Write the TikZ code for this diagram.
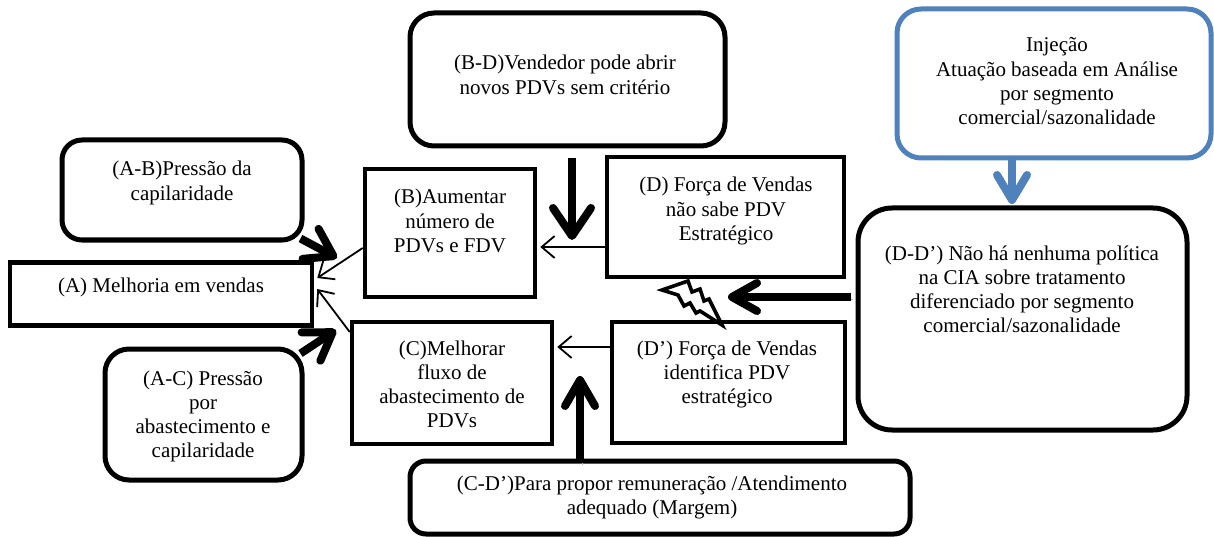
\documentclass[tikz,border=0pt]{standalone}
\usepackage{fontspec}
\setmainfont{Liberation Serif}
\usetikzlibrary{arrows.meta,calc}
\definecolor{injblue}{RGB}{79,129,189}
% centred multi-line text whose baseline is that of its first line
\newcommand{\tl}[2]{\parbox[t]{#1pt}{\centering #2}}
\begin{document}
\begin{tikzpicture}[x=1pt,y=-1pt,
  sqbox/.style={draw, line width=4.5pt, inner sep=0pt},
  rbox/.style={draw, line width=5pt, inner sep=0pt, rounded corners=#1},
  lbl/.style={anchor=base, inner sep=0pt, font=\fontsize{21}{24.3}\selectfont},
  thinarrow/.style={line width=1.8pt, -{Straight Barb[length=13pt,width=22pt]}},
  fat/.style 2 args={line width=8pt, -{Straight Barb[length=#1,width=#2,round]},
     preaction={draw=gray!55, transform canvas={shift={(2.5pt,-2.5pt)}}}},
]
\useasboundingbox[fill=white] (0,0) rectangle (1214,537);

% ---- boxes ----
\node[rbox=20pt, minimum width=240pt, minimum height=100pt] (AB) at (182,190) {};
\node[sqbox, minimum width=302pt, minimum height=63pt] (A) at (161,294) {};
\node[rbox=24pt, minimum width=197pt, minimum height=131pt] (AC) at (203.5,414.5) {};
\node[sqbox, minimum width=170pt, minimum height=128pt] (B) at (450,233) {};
\node[sqbox, minimum width=200pt, minimum height=122pt] (C) at (452,383) {};
\node[rbox=24pt, minimum width=315pt, minimum height=133pt] (BD) at (567.5,79.5) {};
\node[sqbox, minimum width=237pt, minimum height=120pt] (D) at (725.5,217) {};
\node[sqbox, minimum width=233pt, minimum height=121pt] (Dp) at (728.5,382.5) {};
\node[rbox=24pt, draw=injblue, minimum width=314pt, minimum height=149pt] (Inj) at (1054,83.5) {};
\node[rbox=34pt, minimum width=329pt, minimum height=222pt] (DDp) at (1022.5,319) {};
\node[rbox=16pt, minimum width=500pt, minimum height=73pt] (CDp) at (660,497.5) {};

% ---- texts ----
\node[lbl] (ABt) at (182,176) {\tl{230}{(A-B)Pressão da\\capilaridade}};
\node[lbl] (At) at (161,292) {\tl{290}{(A) Melhoria em vendas}};
\node[lbl] (ACt) at (203,385) {\tl{190}{(A-C) Pressão\\por\\abastecimento e\\capilaridade}};
\node[lbl] (Bt) at (450,204) {\tl{165}{(B)Aumentar\\número de\\PDVs e FDV}};
\node[lbl] (Ct) at (452,355) {\tl{195}{(C)Melhorar\\fluxo de\\abastecimento de\\PDVs}};
\node[lbl] (BDt) at (565,70) {\tl{300}{(B-D)Vendedor pode abrir\\novos PDVs sem critério}};
\node[lbl] (Dt) at (726,192) {\tl{230}{(D) Força de Vendas\\não sabe PDV\\Estratégico}};
\node[lbl] (Dpt) at (727,355) {\tl{230}{(D’) Força de Vendas\\identifica PDV\\estratégico}};
\node[lbl] (Injt) at (1057,52) {\tl{300}{Injeção\\Atuação baseada em Análise\\por segmento\\comercial/sazonalidade}};
\node[lbl] (DDpt) at (1022,260) {\tl{320}{(D-D’) Não há nenhuma política\\na CIA sobre tratamento\\diferenciado por segmento\\comercial/sazonalidade}};
\node[lbl] (CDpt) at (652,490) {\tl{480}{(C-D’)Para propor remuneração /Atendimento\\adequado (Margem)}};

% ---- thin arrows ----
\draw[thinarrow] ([yshift=-30pt]D.west) -- ($([yshift=-30pt]D.west -| B.east)+(3,0)$);
\draw[thinarrow] ([yshift=35.5pt]Dp.west) -- ($([yshift=35.5pt]Dp.west -| C.east)+(3,0)$);
\draw[thinarrow] ([yshift=-15pt]B.west) -- ($([yshift=16pt]A.east)+(3,0)$);
\draw[thinarrow] ([yshift=51pt]C.west) -- ($([yshift=5pt]A.east)+(3,0)$);

% ---- thick arrows ----
\coordinate (abTip) at (337,258);
\coordinate (acTip) at (336,330);
\coordinate (bdTip) at (572,240);
\coordinate (cdTip) at (580,376);
\coordinate (ddTip) at (728,297);
\coordinate (injTip) at (1012,204);
\draw[fat={26pt}{34pt}] ([shift={(-4pt,4pt)}]AB.south east) -- (abTip);
\draw[fat={26pt}{34pt}] ([shift={(-4pt,-7pt)}]AC.north east) -- (acTip);
\draw[fat={28pt}{38pt}] ($(bdTip |- BD.south)+(0,10)$) -- (bdTip);
\draw[fat={26pt}{30pt}] ($(cdTip |- CDp.north)+(0,4)$) -- (cdTip);
\draw[fat={25pt}{28pt}] ($(DDp.west |- ddTip)+(-5,0)$) -- (ddTip);
\draw[fat={25pt}{30pt}, draw=injblue] (injTip |- Inj.south) -- (injTip);

% ---- conflict bolt between D and D' ----
\draw[line width=3.6pt, fill=white, line join=miter]
  (662,290) -- (688,281) -- (692,292) -- (700,289) -- (704,301) -- (709,299)
  -- (722,325) -- (700,311) -- (696,313) -- (690,303) -- (684,306) -- (678,295) -- cycle;
\end{tikzpicture}
\end{document}
